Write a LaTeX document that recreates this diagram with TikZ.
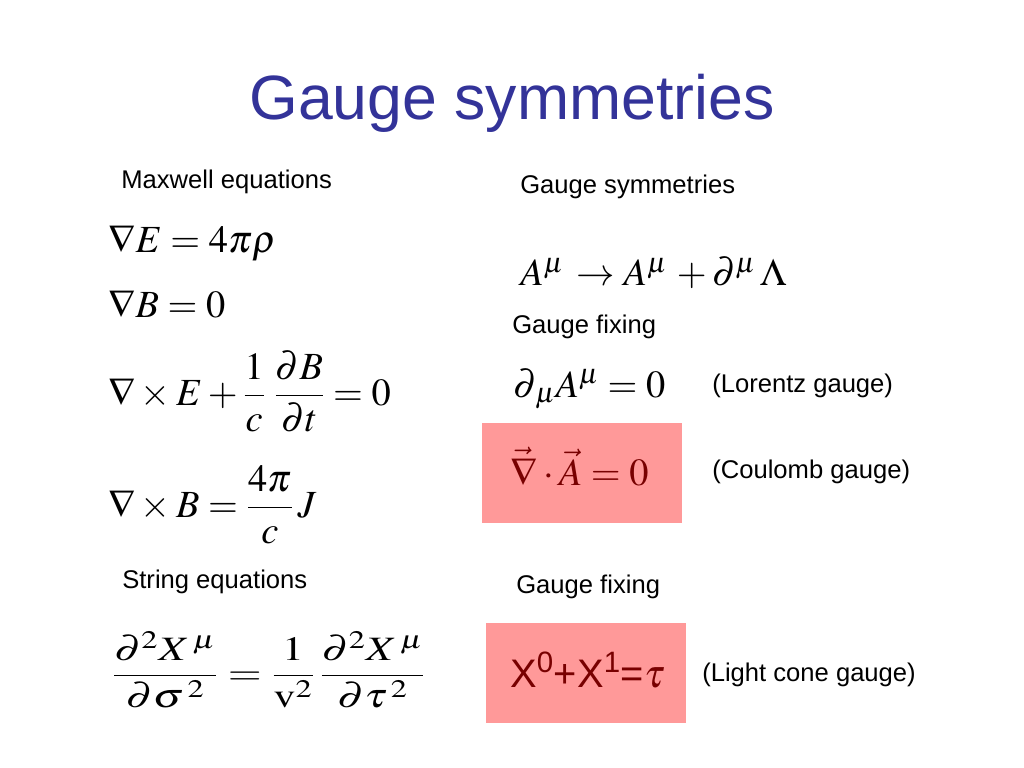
\documentclass[tikz,border=0pt]{standalone}
\usepackage{mathptmx}
\usepackage[no-math]{fontspec}
\setmainfont{Liberation Sans}

\definecolor{titleblue}{RGB}{51,51,153}
\definecolor{boxpink}{RGB}{255,153,153}
\definecolor{eqred}{RGB}{120,0,0}

\tikzset{
  heading/.style={anchor=base, inner sep=0pt, text=titleblue, font=\fontsize{44}{52}\selectfont},
  caption/.style={anchor=base west, inner sep=0pt, font=\fontsize{18}{22}\selectfont},
  eqn/.style={anchor=base west, inner sep=0pt, font=\fontsize{27}{32}\selectfont},
  gaugebox/.style={fill=boxpink, draw=none},
}

\begin{document}
\begin{tikzpicture}[x=0.703125pt,y=-0.703125pt]
\useasboundingbox (0,0) rectangle (1024,768);
\def\leftx{108}
\def\rightx{512}

\node[heading] (title) at (512,120) {Gauge symmetries};

% Maxwell equations
\node[caption] (maxwell) at (121,189) {Maxwell equations};
\node[eqn] (gausse) at (\leftx,253) {$\nabla E = 4\pi\rho$};
\node[eqn] (gaussb) at (\leftx,317) {$\nabla B = 0$};
\node[eqn] (faraday) at (\leftx,405) {$\displaystyle \nabla\times E + \frac{1}{c}\;\frac{\partial B}{\partial t} = 0$};
\node[eqn] (ampere) at (\leftx,517) {$\displaystyle \nabla\times B = \frac{4\pi}{c}\,J$};

% string equations
\node[caption] (stringlbl) at (122,588) {String equations};
\node[eqn, font=\fontsize{24}{30}\selectfont] (waveeq) at (112,684)
  {\scalebox{1.28}[1]{$\displaystyle \frac{\partial^2 X^{\,\mu}}{\partial\sigma^{\,2}} = \frac{1}{\mathrm{v}^2}\,\frac{\partial^2 X^{\,\mu}}{\partial\tau^{\,2}}$}};

% gauge symmetries
\node[caption] (symlbl) at (520,194) {Gauge symmetries};
\node[eqn] (transf) at (520,286) {$A^{\mu}\,\rightarrow A^{\mu}\, + \partial^{\mu}\,\Lambda$};
\node[caption] (fixlbl) at (\rightx,334) {Gauge fixing};
\node[eqn] (lorentz) at (513,397) {$\partial_{\,\mu}A^{\mu} = 0$};
\node[caption] (lorentzlbl) at (712,392) {(Lorentz gauge)};

\fill[gaugebox] (482,423) rectangle (682,523);
\node[eqn, text=eqred] (coulomb) at (510,485) {$\vec{\nabla}\cdot\vec{A} = 0$};
\node[caption] (coulomblbl) at (712,478) {(Coulomb gauge)};

% light cone
\node[caption] (fixlbltwo) at (516,593) {Gauge fixing};
\fill[gaugebox] (486,623) rectangle (686,723);
\node[anchor=base west, inner sep=0pt, text=eqred, font=\fontsize{28}{34}\selectfont] (lightcone) at (510,687) {X\textsuperscript{0}+X\textsuperscript{1}=$\tau$};
\node[caption] (lightlbl) at (702,681) {(Light cone gauge)};

\end{tikzpicture}
\end{document}
